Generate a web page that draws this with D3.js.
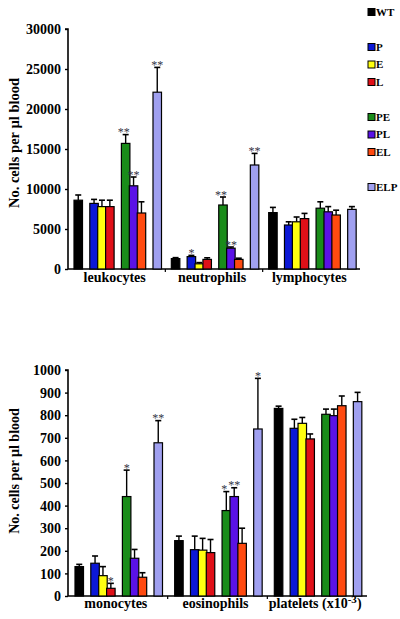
<!DOCTYPE html>
<html><head><meta charset="utf-8">
<script src="https://cdn.jsdelivr.net/npm/d3@7"></script>
<style>
html,body{margin:0;padding:0;background:#fff;}
svg text{font-family:"Liberation Serif","Times New Roman","DejaVu Serif",serif !important;font-weight:bold;}
</style></head>
<body><svg id="c" width="400" height="619"></svg>
<script>
// ---- data ----
const seriesGroups = [["WT"],["P","E","L"],["PE","PL","EL"],["ELP"]];
const seriesColors = ["#000000","#0c18d6","#ffff10","#e01018","#1a8c1a","#5a12e6","#ff4a10","#a0a0f0"];

const topCategories = ["leukocytes","neutrophils","lymphocytes"];
const topMeans = [
  [8600, 8200, 7800, 7800, 15700, 10400, 7000, 22100],
  [1300, 1550, 650, 1200, 8000, 2600, 1200, 13000],
  [7050, 5500, 5900, 6300, 7600, 7150, 6750, 7450]
];
const topErrTops = [
  [9250, 8700, 8600, 8600, 16800, 11500, 8400, 25200],
  [1420, 1700, 800, 1400, 9000, 2750, 1350, 14450],
  [7700, 5900, 6500, 6950, 8400, 7800, 7350, 7800]
];
const topStars = [
  ["","","","","**","**","","**"],
  ["","*","","","**","**","","**"],
  ["","","","","","","",""]
];
const topTicks = [0,5000,10000,15000,20000,25000,30000];

const botCategories = ["monocytes","eosinophils","platelets"];
const botMeans = [
  [130, 145, 90, 34, 440, 167, 83, 678],
  [245, 205, 203, 192, 378, 440, 233, 739],
  [830, 742, 764, 695, 804, 798, 842, 860]
];
const botErrTops = [
  [140, 177, 130, 56, 557, 206, 103, 776],
  [265, 265, 255, 250, 462, 479, 300, 963],
  [840, 782, 790, 717, 827, 827, 885, 901]
];
const botStars = [
  ["","","","*","*","","","**"],
  ["","","","","*","**","","*"],
  ["","","","","","","",""]
];
const botTicks = [0,100,200,300,400,500,600,700,800,900,1000];
const yLabel = "No. cells per µl blood";

// ---- derived ----
const FONT = '"Liberation Serif","Times New Roman","DejaVu Serif",serif';
const seriesNames = seriesGroups.flat();
const slotOf = [];
seriesGroups.forEach((g,gi)=>g.forEach((s,si)=>slotOf.push(slotOf.length + gi)));

const svg = d3.select("#c");

function panel(opt){
  const {cats, means, errs, stars, ticks, x0, x1, yTop, yBot, yMax, barOff, barW, unit, labelY, yLabelY, yLabelSize} = opt;
  const x = d3.scaleBand().domain(cats).range([x0, x1]);
  const inner = d3.scaleLinear().domain([0, 1]).range([barOff, barOff + unit]);
  const y = d3.scaleLinear().domain([0, yMax]).range([yBot, yTop]);
  const g = svg.append("g");

  const ax = g.append("g").attr("transform", `translate(${x0},0)`)
    .call(d3.axisLeft(y).tickValues(ticks).tickSize(3).tickPadding(4).tickFormat(d3.format("d")));
  ax.attr("font-family", FONT);
  ax.select(".domain").attr("stroke","#000").attr("stroke-width",1.6).attr("d",`M-3,${yTop}H0V${yBot}`);
  ax.selectAll(".tick line").attr("stroke","#000").attr("stroke-width",1.4);
  ax.selectAll(".tick text").attr("fill","#000").style("font-family",FONT).style("font-weight","bold")
    .style("font-size","14px").attr("dy","0.34em");

  g.append("line").attr("x1",x0).attr("x2",x1).attr("y1",yBot).attr("y2",yBot)
    .attr("stroke","#000").attr("stroke-width",1.6);
  cats.slice(1).forEach(c=>{
    g.append("line").attr("x1",x(c)).attr("x2",x(c)).attr("y1",yBot).attr("y2",yBot+3)
      .attr("stroke","#000").attr("stroke-width",1.2);
  });

  cats.forEach((c,ci)=>{
    seriesNames.forEach((s,si)=>{
      const bx = x(c) + inner(slotOf[si]);
      const v = means[ci][si], e = errs[ci][si];
      const cx = bx + barW/2;
      g.append("line").attr("x1",cx).attr("x2",cx).attr("y1",y(v)).attr("y2",y(e))
        .attr("stroke","#000").attr("stroke-width",1.4);
      g.append("line").attr("x1",cx-3).attr("x2",cx+3).attr("y1",y(e)).attr("y2",y(e))
        .attr("stroke","#000").attr("stroke-width",1.6);
      g.append("rect").attr("x",bx).attr("y",y(v)).attr("width",barW).attr("height",yBot-y(v))
        .attr("fill",seriesColors[si]).attr("stroke","#000").attr("stroke-width",1.2);
      if(stars[ci][si]){
        const crowded = si+1 < seriesNames.length && stars[ci][si+1] && slotOf[si+1]===slotOf[si]+1;
        g.append("text").attr("x",cx - (crowded ? 2 : 0)).attr("y",y(e)+1.5).attr("text-anchor","middle")
          .attr("fill","#333344").style("font-family",FONT).style("font-size","12px").style("font-weight","normal")
          .text(stars[ci][si]);
      }
    });
    const lt = g.append("text").attr("x",x(c)+x.bandwidth()/2 - 2).attr("y",labelY)
      .attr("text-anchor","middle").style("font-family",FONT).style("font-weight","bold")
      .style("font-size","14px").attr("fill","#000");
    if(c === "platelets"){
      lt.append("tspan").text("platelets (x10");
      lt.append("tspan").attr("dy",-5).style("font-size","11px").text("-3");
      lt.append("tspan").attr("dy",5).text(")");
    } else lt.text(c);
  });

  g.append("text").attr("transform",`translate(19,${yLabelY}) rotate(-90)`)
    .attr("text-anchor","middle").style("font-family",FONT).style("font-weight","bold")
    .style("font-size",yLabelSize).attr("fill","#000").text(yLabel);
}

panel({cats: topCategories, means: topMeans, errs: topErrTops, stars: topStars, ticks: topTicks,
  x0: 68, x1: 360, yTop: 29, yBot: 269, yMax: 30000, barOff: 6, barW: 8.5, unit: 7.9,
  labelY: 282, yLabelY: 143, yLabelSize: "14.5px"});
panel({cats: botCategories, means: botMeans, errs: botErrTops, stars: botStars, ticks: botTicks,
  x0: 68, x1: 367, yTop: 370, yBot: 596, yMax: 1000, barOff: 7, barW: 8.5, unit: 7.9,
  labelY: 608, yLabelY: 471, yLabelSize: "14px"});

const leg = svg.append("g");
const ly = d3.scaleLinear().domain([0, 1]).range([12, 29.5]);
seriesNames.forEach((s,si)=>{
  const yy = ly(slotOf[si]);
  leg.append("rect").attr("x",368).attr("y",yy-3.5).attr("width",7).attr("height",7)
    .attr("fill",seriesColors[si]).attr("stroke","#000").attr("stroke-width",1);
  leg.append("text").attr("x",376).attr("y",yy).attr("dy","0.35em")
    .style("font-family",FONT).style("font-weight","bold")
    .style("font-size","11px").attr("fill","#000").text(s);
});
</script></body></html>
